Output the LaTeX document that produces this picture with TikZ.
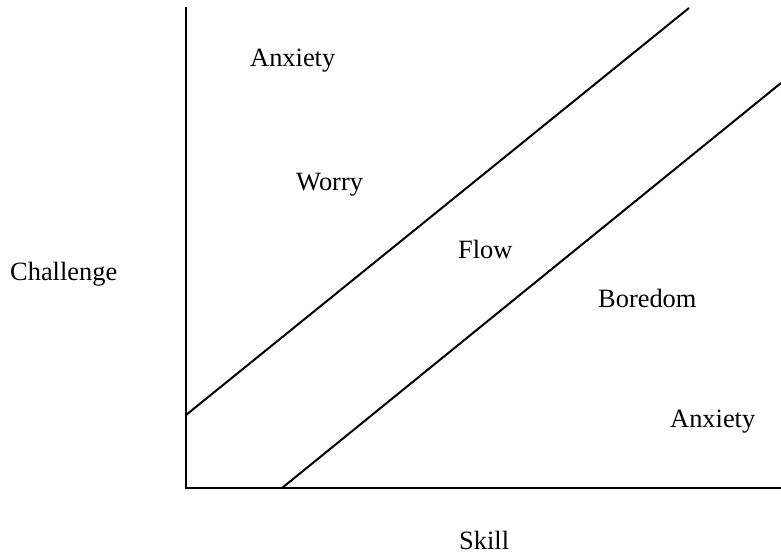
\documentclass[tikz,border=0pt]{standalone}
\usepackage{fontspec}
\setmainfont{Liberation Serif}
\begin{document}
\begin{tikzpicture}[x=1pt,y=-1pt,
  lbl/.style={anchor=base west,inner sep=0pt,font=\fontsize{26.4}{30}\selectfont},
  ln/.style={line width=2pt,line cap=rect}]
\useasboundingbox (0,0) rectangle (781,556);
\coordinate (top) at (186,8);
\coordinate (org) at (186,488);
\coordinate (xend) at (781,488);
\coordinate (u1) at (186,415);
\coordinate (u2) at (689,8);
\coordinate (l1) at (282,488);
\coordinate (l2) at (781,83);
\draw[ln] (top) -- (org) -- (xend);
\draw[ln,line cap=butt] (u1) -- (u2);
\draw[ln,line cap=butt] (l1) -- (l2);
\node[lbl] (anx1) at (250,67) {Anxiety};
\node[lbl] (worry) at (296,190) {Worry};
\node[lbl] (flow) at (458,258) {Flow};
\node[lbl] (bored) at (598,307) {Boredom};
\node[lbl] (anx2) at (670,427) {Anxiety};
\node[lbl] (chal) at (10,280) {Challenge};
\node[lbl] (skill) at (459,549) {Skill};
\end{tikzpicture}
\end{document}
